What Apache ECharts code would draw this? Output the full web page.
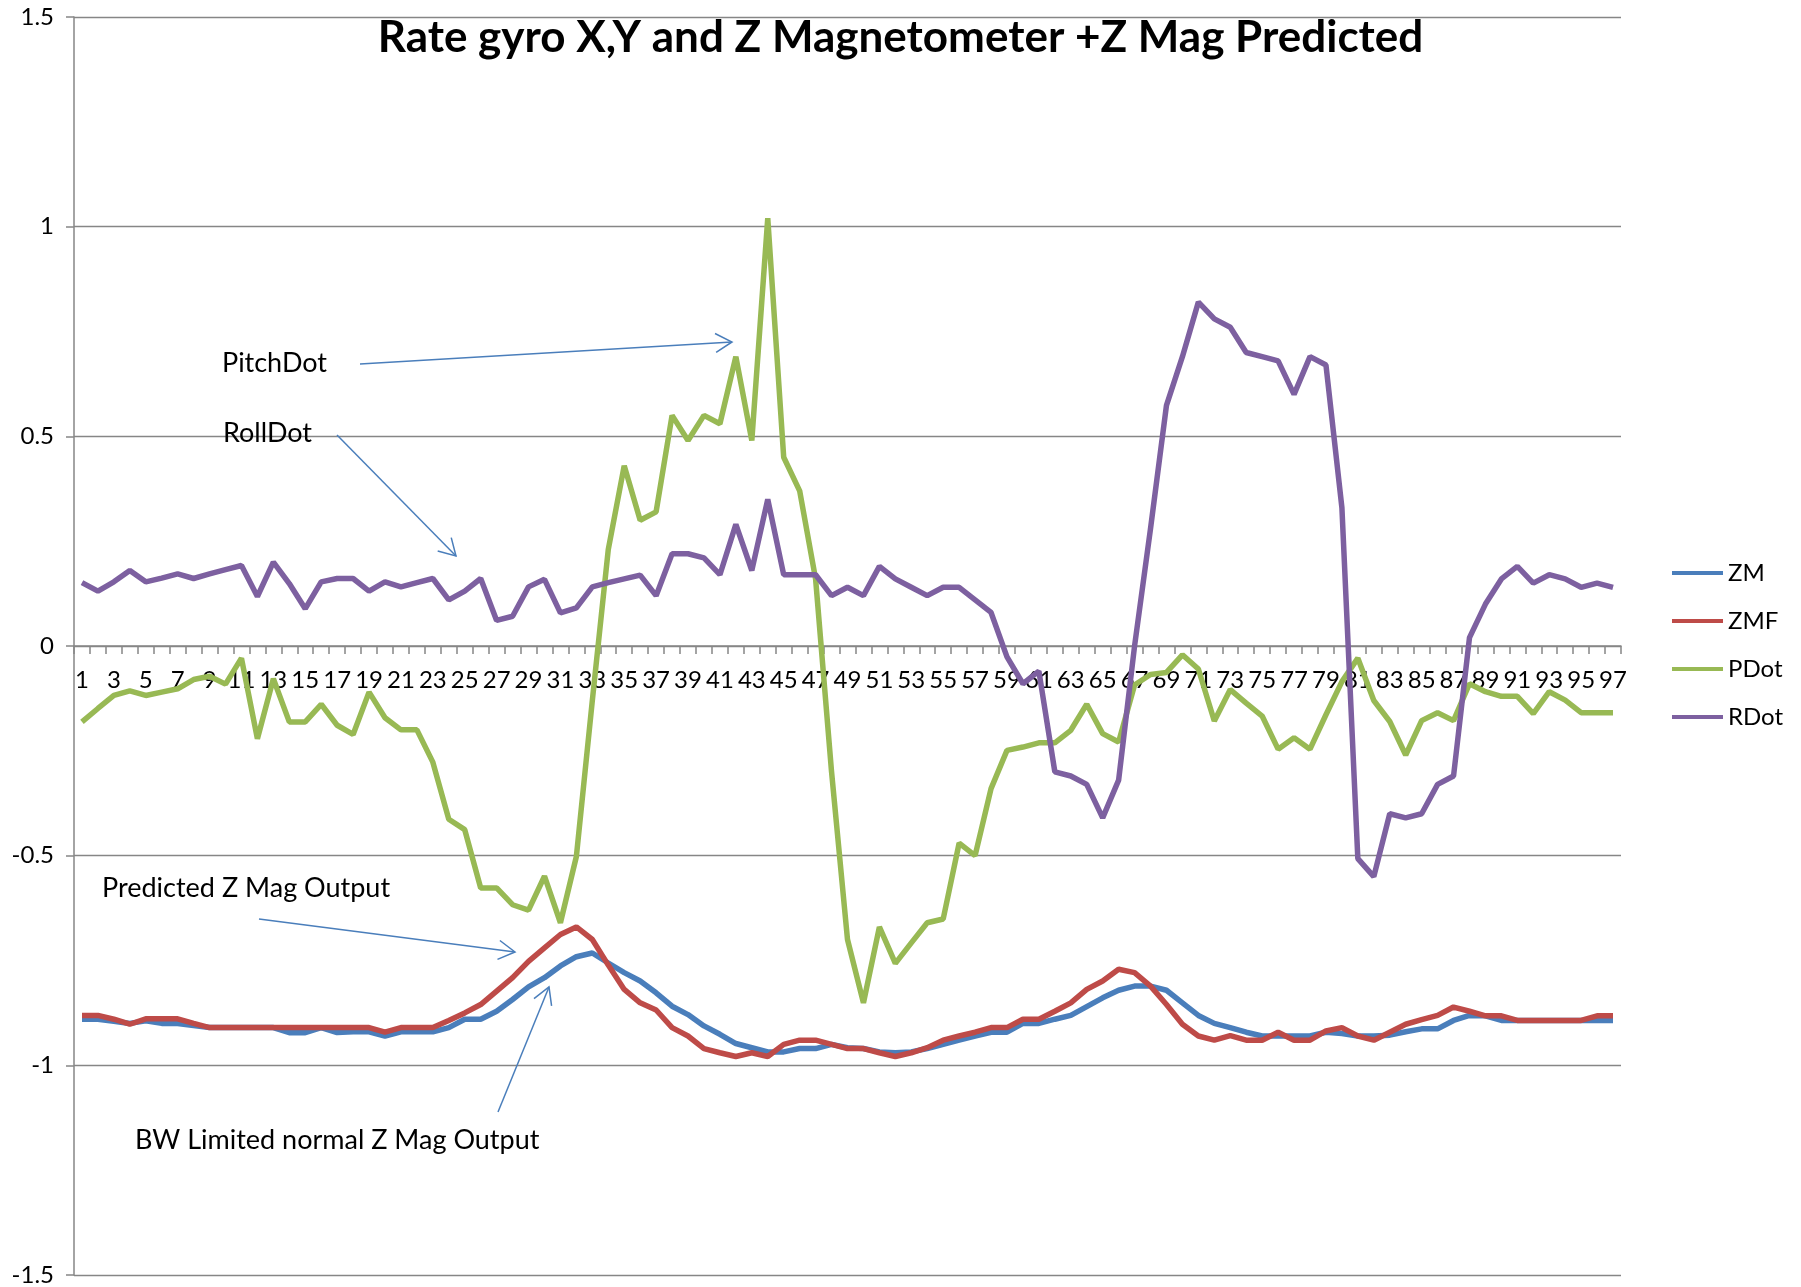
<!DOCTYPE html>
<html>
<head>
<meta charset="utf-8">
<script src="https://cdn.jsdelivr.net/npm/echarts@6/dist/echarts.min.js"></script>
<style>
html,body{margin:0;padding:0;background:#fff;}
#chart{width:1801px;height:1287px;}
</style>
</head>
<body>
<div id="chart"></div>
<script>
const categories = [1,2,3,4,5,6,7,8,9,10,11,12,13,14,15,16,17,18,19,20,21,22,23,24,25,26,27,28,29,30,31,32,33,34,35,36,37,38,39,40,41,42,43,44,45,46,47,48,49,50,51,52,53,54,55,56,57,58,59,60,61,62,63,64,65,66,67,68,69,70,71,72,73,74,75,76,77,78,79,80,81,82,83,84,85,86,87,88,89,90,91,92,93,94,95,96,97];

const zm = [-0.89,-0.89,-0.895,-0.90,-0.894,-0.90,-0.90,-0.905,-0.91,-0.91,
  -0.91,-0.91,-0.91,-0.922,-0.922,-0.91,-0.922,-0.92,-0.92,-0.93,
  -0.92,-0.92,-0.92,-0.91,-0.89,-0.89,-0.871,-0.843,-0.813,-0.791,
  -0.763,-0.741,-0.732,-0.756,-0.779,-0.799,-0.827,-0.859,-0.879,-0.906,
  -0.926,-0.948,-0.958,-0.968,-0.968,-0.96,-0.96,-0.95,-0.958,-0.96,
  -0.968,-0.97,-0.968,-0.96,-0.95,-0.94,-0.93,-0.921,-0.921,-0.90,
  -0.90,-0.89,-0.881,-0.86,-0.839,-0.821,-0.811,-0.811,-0.821,-0.851,
  -0.881,-0.90,-0.91,-0.921,-0.93,-0.93,-0.93,-0.93,-0.921,-0.924,
  -0.93,-0.93,-0.928,-0.92,-0.913,-0.913,-0.893,-0.881,-0.882,-0.893,
  -0.893,-0.893,-0.893,-0.893,-0.893,-0.893,-0.893];

const zmf = [-0.881,-0.881,-0.89,-0.902,-0.889,-0.889,-0.889,-0.90,-0.91,-0.91,
  -0.91,-0.91,-0.91,-0.91,-0.91,-0.91,-0.91,-0.91,-0.91,-0.921,
  -0.91,-0.91,-0.91,-0.893,-0.875,-0.855,-0.823,-0.791,-0.752,-0.72,
  -0.688,-0.67,-0.70,-0.761,-0.819,-0.851,-0.868,-0.91,-0.93,-0.96,
  -0.97,-0.979,-0.97,-0.979,-0.95,-0.94,-0.94,-0.95,-0.96,-0.96,
  -0.97,-0.979,-0.97,-0.958,-0.94,-0.93,-0.921,-0.91,-0.91,-0.89,
  -0.89,-0.871,-0.851,-0.819,-0.799,-0.771,-0.779,-0.811,-0.855,-0.902,
  -0.93,-0.94,-0.929,-0.94,-0.94,-0.921,-0.94,-0.94,-0.918,-0.91,
  -0.93,-0.94,-0.921,-0.902,-0.891,-0.881,-0.861,-0.871,-0.882,-0.882,
  -0.893,-0.893,-0.893,-0.893,-0.893,-0.882,-0.882];

const pdot = [-0.181,-0.149,-0.118,-0.107,-0.118,-0.110,-0.102,-0.080,-0.072,-0.091,
  -0.029,-0.221,-0.078,-0.181,-0.181,-0.139,-0.189,-0.211,-0.110,-0.171,
  -0.20,-0.20,-0.277,-0.413,-0.438,-0.577,-0.577,-0.617,-0.630,-0.549,
  -0.660,-0.502,-0.13,0.23,0.43,0.30,0.32,0.55,0.49,0.55,
  0.53,0.69,0.49,1.02,0.45,0.37,0.16,-0.30,-0.70,-0.851,
  -0.67,-0.757,-0.708,-0.660,-0.651,-0.470,-0.50,-0.34,-0.249,-0.241,
  -0.231,-0.231,-0.201,-0.139,-0.209,-0.229,-0.093,-0.068,-0.063,-0.021,
  -0.055,-0.179,-0.104,-0.136,-0.167,-0.246,-0.219,-0.246,-0.164,-0.085,
  -0.029,-0.130,-0.180,-0.260,-0.178,-0.159,-0.178,-0.090,-0.109,-0.120,
  -0.120,-0.161,-0.109,-0.129,-0.159,-0.159,-0.159];

const rdot = [0.151,0.131,0.153,0.180,0.153,0.162,0.172,0.161,0.172,0.182,
  0.192,0.118,0.20,0.149,0.089,0.153,0.161,0.161,0.131,0.153,
  0.141,0.151,0.161,0.110,0.131,0.161,0.061,0.071,0.141,0.159,
  0.079,0.091,0.141,0.151,0.16,0.169,0.12,0.22,0.22,0.21,
  0.17,0.29,0.18,0.35,0.17,0.17,0.17,0.12,0.14,0.12,
  0.19,0.16,0.14,0.12,0.14,0.14,0.11,0.08,-0.026,-0.09,
  -0.06,-0.30,-0.31,-0.33,-0.41,-0.32,0.0,0.28,0.574,0.69,
  0.82,0.78,0.76,0.70,0.69,0.68,0.60,0.69,0.67,0.33,
  -0.507,-0.55,-0.40,-0.41,-0.40,-0.33,-0.31,0.02,0.10,0.16,
  0.19,0.15,0.17,0.16,0.14,0.15,0.14];

const seriesNames = ['ZM','ZMF','PDot','RDot'];
const titleText = 'Rate gyro X,Y and Z Magnetometer +Z Mag Predicted';

// annotation layout (pixel positions of callout texts and arrows)
const annotations = [
  {text:'PitchDot', x:222, y:363, from:[360,364], to:[732,342]},
  {text:'RollDot', x:223, y:433, from:[337,435], to:[456,556]},
  {text:'Predicted Z Mag Output', x:102, y:888, from:[259,919], to:[515,952]},
  {text:'BW Limited normal Z Mag Output', x:135, y:1140, from:[498,1112], to:[549,987]}
];

const FONT = 'Lato, "Open Sans", sans-serif';
const colors = ['#4A7EBB','#BE4B48','#98B954','#7D60A0'];
const arrowColor = '#4A7EBB';

const GRID_TOP = 17, GRID_BOTTOM = 12, H = 1287;
const plotH = H - GRID_TOP - GRID_BOTTOM;

function arrowGraphics(a){
  const [x1,y1] = a.from, [x2,y2] = a.to;
  const ang = Math.atan2(y2-y1, x2-x1);
  const L = 19, h = Math.PI/6;
  const p1 = [x2 - L*Math.cos(ang-h), y2 - L*Math.sin(ang-h)];
  const p2 = [x2 - L*Math.cos(ang+h), y2 - L*Math.sin(ang+h)];
  return [
    {type:'line', shape:{x1,y1,x2,y2}, style:{stroke:arrowColor, lineWidth:1.5}, z:100},
    {type:'polyline', shape:{points:[p1,[x2,y2],p2]}, style:{stroke:arrowColor, lineWidth:1.5, fill:null}, z:100},
    {type:'text', style:{x:a.x, y:a.y, text:a.text, fontSize:27, fontFamily:FONT, fill:'#000', verticalAlign:'middle', align:'left'}, z:100}
  ];
}

const chart = echarts.init(document.getElementById('chart'), null, {renderer:'canvas'});
const dataSets = [zm, zmf, pdot, rdot];

chart.setOption({
  backgroundColor:'#fff',
  animation:false,
  color: colors,
  title:{
    text: titleText, left:'center', top:16, padding:0,
    textStyle:{fontFamily:FONT, fontWeight:'bold', fontSize:44, color:'#000'}
  },
  legend:{
    orient:'vertical', left:1667, top:556,
    icon:'rect', itemWidth:51, itemHeight:4, itemGap:24,
    textStyle:{fontFamily:FONT, fontSize:24, color:'#000'},
    data: seriesNames
  },
  grid:{left:74, right:180, top:GRID_TOP, bottom:GRID_BOTTOM, containLabel:false, outerBoundsMode:'none'},
  xAxis:{
    type:'category', data:categories, boundaryGap:true,
    position:'bottom', offset: -plotH/2,
    axisLine:{onZero:false, lineStyle:{color:'#868686', width:1.5}},
    axisTick:{show:true, interval:0, length:8, inside:false, lineStyle:{color:'#868686', width:1.5}},
    axisLabel:{interval:1, margin:22, fontFamily:FONT, fontSize:24, color:'#000'},
    splitLine:{show:false}
  },
  yAxis:{
    type:'value', min:-1.5, max:1.5, interval:0.5,
    axisLine:{show:true, lineStyle:{color:'#868686', width:1.5}},
    axisTick:{show:true, length:8, lineStyle:{color:'#868686', width:1.5}},
    axisLabel:{margin:20, fontFamily:FONT, fontSize:24, color:'#000'},
    splitLine:{show:true, lineStyle:{color:'#868686', width:1.3}}
  },
  series: seriesNames.map((n,i)=>({
    name:n, type:'line', data:dataSets[i], showSymbol:false, symbol:'none',
    smooth:false, lineStyle:{width:5.5, color:colors[i]}, itemStyle:{color:colors[i]},
    z: 2+i
  })),
  graphic: annotations.flatMap(arrowGraphics)
});
</script>
</body>
</html>
